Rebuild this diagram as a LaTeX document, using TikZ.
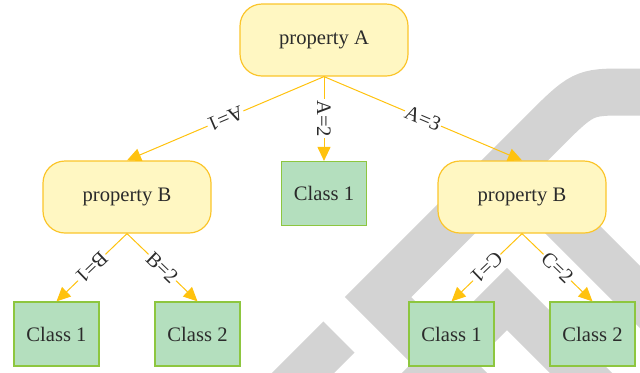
\documentclass[tikz,border=0pt]{standalone}
\usepackage{fontspec}
\setmainfont{Liberation Serif}
\usetikzlibrary{arrows.meta}
\definecolor{propfill}{HTML}{FFF7C2}
\definecolor{propline}{HTML}{FBC52B}
\definecolor{leaffill}{HTML}{B4DFBE}
\definecolor{leafline}{HTML}{8DC63F}
\definecolor{branchcol}{HTML}{FFC20E}
\definecolor{inkgrey}{HTML}{2B2B2B}
\definecolor{wmgrey}{HTML}{D3D3D3}
\newcommand{\treefont}{\fontsize{10.3}{12}\selectfont}
\begin{document}
\begin{tikzpicture}[x=0.5pt,y=-0.5pt,
    prop/.style={draw=propline,fill=propfill,line width=0.6pt,rounded corners=11pt,
      minimum width=84pt,minimum height=36pt,text=inkgrey,font=\treefont},
    leaf/.style={draw=leafline,fill=leaffill,line width=0.6pt,
      minimum width=42.5pt,minimum height=32pt,text=inkgrey,font=\treefont},
    branch/.style={draw=branchcol,line width=0.5pt,-{Triangle[length=7pt,width=6.5pt]}},
    cond/.style={midway,sloped,allow upside down,fill=white,inner sep=0.5pt,
      text=inkgrey,font=\treefont},
    wmband/.style={draw=wmgrey,line width=22pt}]
    \useasboundingbox (0,0) rectangle (640,372);
    % watermark behind the tree
    \begin{scope}
      \clip (0,0) rectangle (640,372);
      \draw[wmband] (339,337) -- (230,446);
      \draw[wmband,line width=23.5pt] (498,417) -- (378,297) -- (540,135)
        .. controls (583,92) .. (626,92) -- (680,92);
      \draw[wmband] (500,157) -- (700,357);
      \draw[wmband] (400,406) -- (507,299) -- (614,406);
    \end{scope}
    % tree
    \node[prop] (propA) at (324,40) {property A};
    \node[prop] (propBl) at (127,197) {property B};
    \node[leaf] (midC1) at (324,193.5) {Class 1};
    \node[prop] (propBr) at (522,197) {property B};
    \node[leaf] (leftC1) at (56.5,334) {Class 1};
    \node[leaf] (leftC2) at (197.5,334) {Class 2};
    \node[leaf] (rightC1) at (451.5,334) {Class 1};
    \node[leaf] (rightC2) at (592.5,334) {Class 2};
    \draw[branch] (propA.south) -- (propBl.north) node[cond] {A=1};
    \draw[branch] (propA.south) -- (midC1.north) node[cond] {A=2};
    \draw[branch] (propA.south) -- (propBr.north) node[cond] {A=3};
    \draw[branch] (propBl.south) -- (leftC1.north) node[cond] {B=1};
    \draw[branch] (propBl.south) -- (leftC2.north) node[cond] {B=2};
    \draw[branch] (propBr.south) -- (rightC1.north) node[cond] {C=1};
    \draw[branch] (propBr.south) -- (rightC2.north) node[cond] {C=2};
\end{tikzpicture}
\end{document}
